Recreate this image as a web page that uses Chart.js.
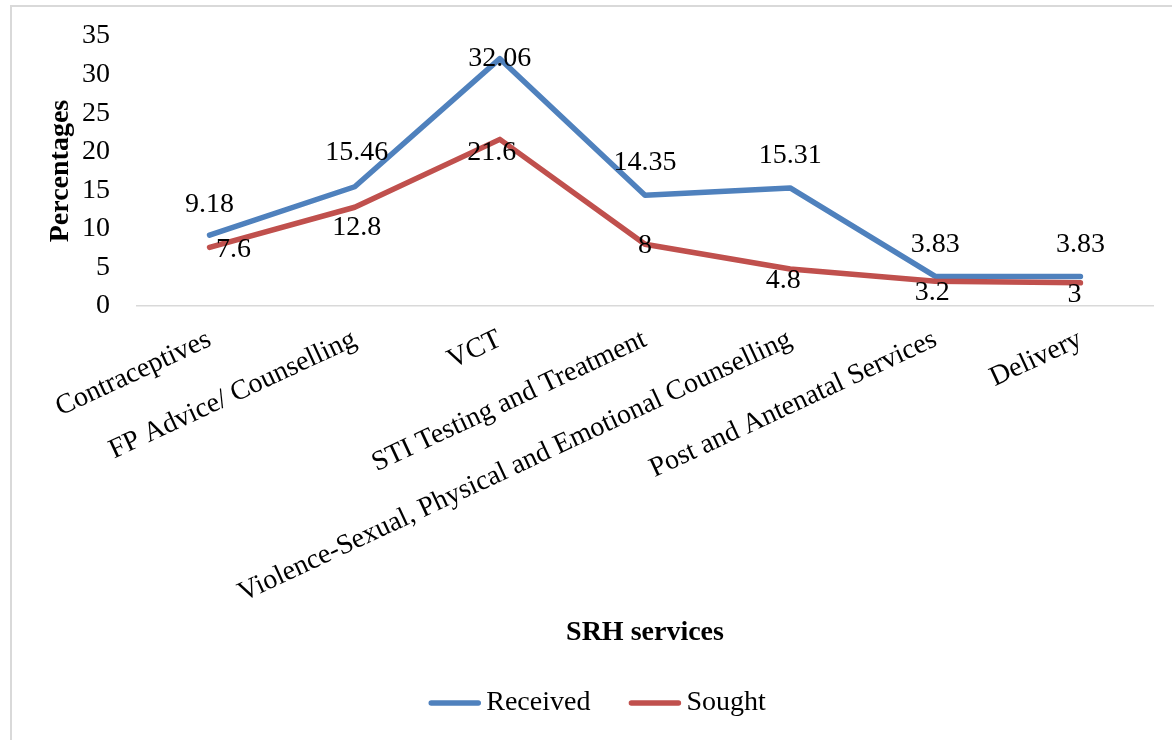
<!DOCTYPE html>
<html><head><meta charset="utf-8">
<script src="https://cdn.jsdelivr.net/npm/chart.js@4"></script>
<style>
html,body{margin:0;padding:0;background:#fff;overflow:hidden}
#wrap{position:relative;width:1172px;height:740px}
#frame{position:absolute;left:10px;top:5px;width:1300px;height:900px;border-left:2px solid #d9d9d9;border-top:2px solid #d9d9d9}
canvas{position:absolute;left:0;top:0}
</style></head><body>
<div id="wrap"><div id="frame"></div><canvas id="c" width="1172" height="740"></canvas></div>
<script>
const categories = ["Contraceptives", "FP Advice/ Counselling", "VCT", "STI Testing and Treatment", "Violence-Sexual, Physical and Emotional Counselling", "Post and Antenatal Services", "Delivery"];
const received = [9.18, 15.46, 32.06, 14.35, 15.31, 3.83, 3.83];
const sought = [7.6, 12.8, 21.6, 8, 4.8, 3.2, 3];
const seriesNames = ["Received", "Sought"];
const yMin = 0, yMax = 35, yStep = 5;
const yTitle = "Percentages";
const xTitle = "SRH services";

// label placement (style): pixel offsets from each point
const labelOffsets = [
  { dx: [0, 2, 0, 0, 0, 0, 0], dy: [-31, -34, 0, -33, -32, -32, -32] },
  { dx: [24, 2, -8, 0, -7, -3, -6], dy: [2, 20, 13, 1, 12, 11, 12] }
];

const FONT = "'Liberation Serif', 'Times New Roman', serif";
const FS = 28;
const colors = ["#4f81bd", "#c0504d"];

const labelPlugin = {
  id: 'valueLabels',
  afterDatasetsDraw(chart) {
    const ctx = chart.ctx;
    ctx.save();
    ctx.font = FS + "px " + FONT;
    ctx.fillStyle = "#000";
    ctx.textAlign = "center";
    ctx.textBaseline = "middle";
    chart.data.datasets.forEach((ds, i) => {
      const meta = chart.getDatasetMeta(i);
      meta.data.forEach((el, j) => {
        const off = labelOffsets[i];
        ctx.fillText(String(ds.data[j]), el.x + off.dx[j], el.y + off.dy[j]);
      });
    });
    ctx.restore();
  }
};

const legendPlugin = {
  id: 'customLegend',
  afterDraw(chart) {
    const ctx = chart.ctx;
    ctx.save();
    ctx.font = FS + "px " + FONT;
    const lineLen = 53, gapText = 5, gapItem = 38;
    const items = chart.data.datasets.map((ds, i) => ({ text: ds.label, color: ds.borderColor, w: ctx.measureText(ds.label).width }));
    let total = 0;
    items.forEach((it, k) => { total += lineLen + gapText + it.w + (k < items.length - 1 ? gapItem : 0); });
    let x = 597 - total / 2;
    const y = 703;
    items.forEach(it => {
      ctx.strokeStyle = it.color;
      ctx.lineWidth = 5.5;
      ctx.lineCap = "round";
      ctx.beginPath();
      ctx.moveTo(x + 3, y);
      ctx.lineTo(x + lineLen - 3, y);
      ctx.stroke();
      ctx.fillStyle = "#000";
      ctx.textAlign = "left";
      ctx.textBaseline = "middle";
      ctx.fillText(it.text, x + lineLen + gapText, y);
      x += lineLen + gapText + it.w + gapItem;
    });
    ctx.restore();
  }
};

Chart.defaults.font.family = FONT;
Chart.defaults.color = "#000";

new Chart(document.getElementById('c'), {
  type: 'line',
  data: {
    labels: categories,
    datasets: [
      { label: seriesNames[0], data: received, borderColor: colors[0], backgroundColor: colors[0], order: 1 },
      { label: seriesNames[1], data: sought, borderColor: colors[1], backgroundColor: colors[1], order: 0 }
    ]
  },
  options: {
    responsive: false,
    devicePixelRatio: 1,
    animation: false,
    layout: { padding: { left: 0, right: 19, top: 36, bottom: 85 } },
    elements: {
      line: { borderWidth: 5.5, tension: 0, borderCapStyle: 'round', borderJoinStyle: 'round', fill: false },
      point: { radius: 0, hoverRadius: 0 }
    },
    plugins: { legend: { display: false }, tooltip: { enabled: false } },
    scales: {
      x: {
        offset: true,
        grid: { display: false, drawTicks: false },
        border: { display: true, color: '#d9d9d9', width: 1.5 },
        ticks: { font: { size: FS }, color: '#000', padding: 17, autoSkip: false, minRotation: 25, maxRotation: 25 },
        title: { display: true, text: xTitle, font: { size: FS, weight: 'bold' }, color: '#000', padding: { top: 0, bottom: 5 } },
        afterFit(scale) { scale.height = 349; }
      },
      y: {
        min: yMin, max: yMax,
        grid: { display: false, drawTicks: false },
        border: { display: false },
        ticks: { stepSize: yStep, font: { size: FS }, color: '#000', padding: 27 },
        title: { display: true, text: yTitle, font: { size: FS, weight: 'bold' }, color: '#000', padding: { top: 44, bottom: 0 } },
        afterFit(scale) { scale.width = 137; scale.paddingTop = 0; scale.paddingBottom = 0; }
      }
    }
  },
  plugins: [labelPlugin, legendPlugin]
});
</script>
</body></html>
